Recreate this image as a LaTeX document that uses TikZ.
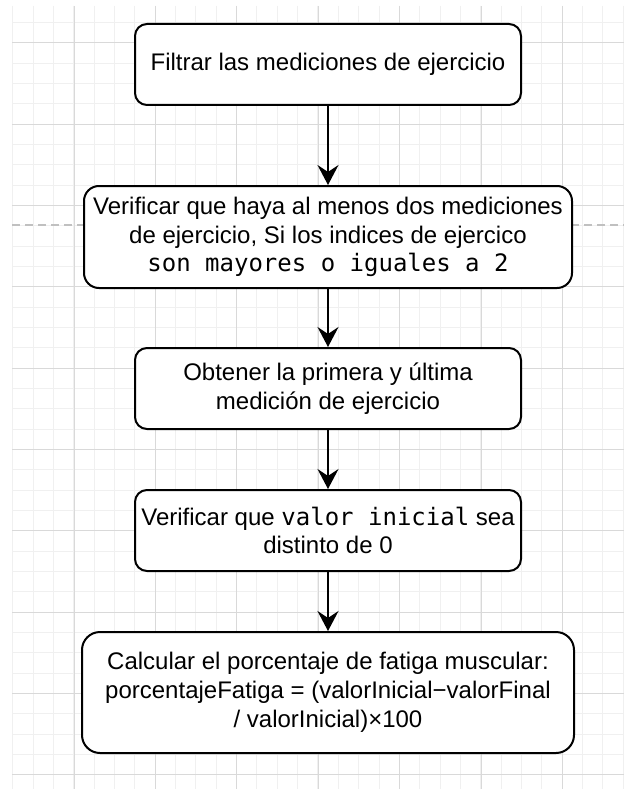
\documentclass[tikz,border=0pt]{standalone}
\usepackage{fontspec}
\setmainfont{Liberation Sans}
\newfontfamily\monof{DejaVu Sans Mono}
\usetikzlibrary{arrows.meta}
\definecolor{gridminor}{HTML}{F0F0F0}
\definecolor{gridmajor}{HTML}{D9D9D9}
\definecolor{dashgray}{HTML}{C0C0C0}
\begin{document}
\begin{tikzpicture}[x=1pt,y=-1pt,
  box/.style={draw=black, line width=2pt, fill=white, rounded corners=#1,
    inner sep=0pt, align=center, font=\fontsize{24}{28.8}\selectfont},
  box/.default=12pt,
  arr/.style={line width=2pt, -{Stealth[length=20pt,width=21pt,inset=7pt]}},
  minorline/.style={gridminor, line width=1pt},
  majorline/.style={gridmajor, line width=1pt}]
\useasboundingbox (0,0) rectangle (624,789);
\fill[white] (0,0) rectangle (624,789);
% grid
\foreach \k in {0,...,30} \draw[minorline] ({12.7+\k*20.35},6) -- ({12.7+\k*20.35},789);
\foreach \k in {-1,...,36} \draw[minorline] (12,{43+\k*20.33}) -- (624,{43+\k*20.33});
\foreach \k in {0,...,6} \draw[majorline] ({74+\k*81.4},6) -- ({74+\k*81.4},789);
\foreach \k in {0,...,9} \draw[majorline] (12,{43+\k*81.3}) -- (624,{43+\k*81.3});
% dashed guide
\draw[dashgray, line width=1.5pt, dash pattern=on 8pt off 5pt] (12,225) -- (624,225);
% boxes
\node[box, minimum width=386pt, minimum height=81pt] (b1) at (328,64.5)
  {Filtrar las mediciones de ejercicio};
\node[box=15pt, minimum width=488pt, minimum height=102pt] (b2) at (328,237)
  {Verificar que haya al menos dos mediciones\\de ejercicio, Si los indices de ejercico\\{\monof son mayores o iguales a 2}};
\node[box, minimum width=386pt, minimum height=81pt] (b3) at (328,388.5)
  {Obtener la primera y última\\medición de ejercicio};
\node[box, minimum width=386pt, minimum height=81pt] (b4) at (328,530.5)
  {Verificar que {\monof valor inicial} sea\\distinto de 0};
\node[box=18pt, minimum width=492pt, minimum height=121pt] (b5) at (328,692.5)
  {Calcular el porcentaje de fatiga muscular:\\porcentajeFatiga = (valorInicial−valorFinal\\/ valorInicial)×100};
% connectors
\draw[arr] (b1.south) -- (b2.north);
\draw[arr] (b2.south) -- (b3.north);
\draw[arr] (b3.south) -- (b4.north);
\draw[arr] (b4.south) -- (b5.north);
\end{tikzpicture}
\end{document}
